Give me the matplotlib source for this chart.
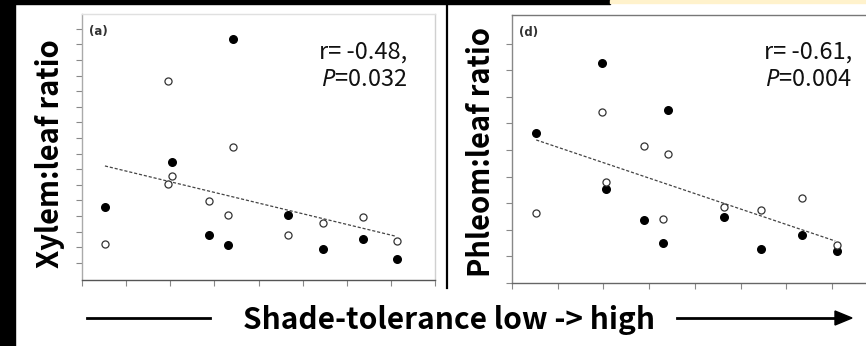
import matplotlib
matplotlib.use("Agg")
import matplotlib.pyplot as plt
import numpy as np

W, H = 866, 346
plt.rcParams['font.family'] = ['Noto Sans CJK SC', 'DejaVu Sans']
plt.rcParams['mathtext.fontset'] = 'custom'
plt.rcParams['mathtext.it'] = 'Noto Sans:italic'
plt.rcParams['mathtext.rm'] = 'Noto Sans'

# ---------------- data ----------------
# panel (a): Xylem:leaf ratio
a_x_filled = [0.52, 2.05, 3.42, 2.88, 3.31, 4.66, 5.47, 6.37, 7.14]
a_y_filled = [4.68, 7.56, 15.45, 2.88, 2.24, 4.17, 1.99, 2.63, 1.35]
a_x_open = [0.52, 1.96, 2.05, 1.96, 2.88, 3.42, 3.31, 4.66, 5.47, 6.37, 7.14]
a_y_open = [2.31, 12.76, 6.67, 6.15, 5.06, 8.53, 4.17, 2.88, 3.65, 4.04, 2.50]
a_trend_x = [0.52, 7.09]
a_trend_y = [7.31, 2.82]
a_stats = ("r=-0.48,", "0.032")

# panel (d): Phleom:leaf ratio
d_x_filled = [0.53, 1.97, 2.06, 2.89, 3.30, 3.41, 4.64, 5.45, 6.35, 7.11]
d_y_filled = [5.64, 8.27, 3.53, 2.37, 1.50, 6.50, 2.48, 1.28, 1.80, 1.20]
d_x_open = [0.53, 1.97, 2.06, 2.89, 3.30, 3.41, 4.64, 5.45, 6.35, 7.11]
d_y_open = [2.63, 6.43, 3.80, 5.15, 2.41, 4.85, 2.86, 2.74, 3.20, 1.43]
d_trend_x = [0.53, 7.07]
d_trend_y = [5.38, 1.58]
d_stats = ("r=-0.61,", "0.004")

fig = plt.figure(figsize=(W / 100, H / 100), dpi=100)
fig.patch.set_facecolor('white')


def px_axes(x0, y0, x1, y1):
    return fig.add_axes([x0 / W, 1 - y1 / H, (x1 - x0) / W, (y1 - y0) / H])


def style(ax, xlim, ylim, yt, xt, spine_cols):
    ax.set_xlim(*xlim)
    ax.set_ylim(*ylim)
    ax.set_yticks(yt)
    ax.set_xticks(xt)
    ax.set_xticklabels([])
    ax.set_yticklabels([])
    ax.tick_params(direction='out', length=4, width=0.8, colors='#888888')
    for k, c in spine_cols.items():
        if c is None:
            ax.spines[k].set_visible(False)
        else:
            ax.spines[k].set_color(c)
            ax.spines[k].set_linewidth(1.0)


def panel(ax, xf, yf, xo, yo, tx, ty, tag):
    ax.plot(tx, ty, ls=(0, (2.5, 1.5)), color='#444444', lw=0.9, zorder=2)
    ax.scatter(xf, yf, s=30, color='black', zorder=3)
    ax.scatter(xo, yo, s=26, facecolor='white', edgecolor='#333333', linewidth=0.9, zorder=3)
    ax.text(0.02, 0.96, tag, transform=ax.transAxes, fontsize=8.5, fontweight='bold',
            family='DejaVu Sans', color='#333333', va='top', ha='left')


# panel (a)
axa = px_axes(82, 14, 435, 280)
style(axa, (0, 7.95), (0, 17.05), np.arange(1.1, 17, 1.0), np.arange(0, 9, 1),
      {'top': '#e0e0e0', 'right': '#d0d0d0', 'left': '#aaaaaa', 'bottom': '#555555'})
panel(axa, a_x_filled, a_y_filled, a_x_open, a_y_open, a_trend_x, a_trend_y, '(a)')

# panel (d)
axd = px_axes(512, 15, 880, 283)
style(axd, (0, 8.05), (0, 10.08), np.arange(0, 10, 1.0), np.arange(0, 9, 1),
      {'top': '#777777', 'right': None, 'left': '#888888', 'bottom': '#666666'})
panel(axd, d_x_filled, d_y_filled, d_x_open, d_y_open, d_trend_x, d_trend_y, '(d)')

# stats texts
for (xr, st) in [(407, a_stats), (852, d_stats)]:
    fig.text(xr / W, 1 - 59 / H, st[0].replace('=', '= '), fontsize=17, ha='right', va='baseline', color='#111111')
    fig.text(xr / W, 1 - 86 / H, r'$\mathit{P}$=' + st[1], fontsize=17, ha='right', va='baseline', color='#111111')

# y labels
fig.text(50 / W, 1 - 154 / H, 'Xylem:leaf ratio', rotation=90, fontsize=21, fontweight='bold',
         ha='center', va='center', color='black')
fig.text(481 / W, 1 - 152 / H, 'Phleom:leaf ratio', rotation=90, fontsize=21, fontweight='bold',
         ha='center', va='center', color='black')

# bottom label and arrows
fig.text(449 / W, 1 - 320 / H, 'Shade-tolerance low -> high', fontsize=21.5, fontweight='bold',
         ha='center', va='center', color='black')
fig.add_artist(plt.Line2D([87 / W, 210 / W], [1 - 318 / H, 1 - 318 / H], color='black', lw=2))
fig.add_artist(plt.Line2D([677 / W, 840 / W], [1 - 318 / H, 1 - 318 / H], color='black', lw=2))
fig.add_artist(plt.Polygon([[835 / W, 1 - 311 / H], [852 / W, 1 - 318 / H], [835 / W, 1 - 325 / H]],
                           closed=True, color='black', transform=fig.transFigure))

# screenshot framing
fig.add_artist(plt.Rectangle((0, 0), 15 / W, 1, color='black', transform=fig.transFigure, zorder=10))
fig.add_artist(plt.Rectangle((0, 1 - 4 / H), 610 / W, 4 / H, color='black', transform=fig.transFigure, zorder=10))
fig.add_artist(plt.Rectangle((610 / W, 1 - 3 / H), 256 / W, 3 / H, color='#fff2cc', transform=fig.transFigure, zorder=10))
fig.add_artist(plt.Line2D([447 / W, 447 / W], [1 - 288 / H, 1], color='black', lw=1.6, zorder=10))

fig.savefig('out.png', dpi=100, facecolor='white')
